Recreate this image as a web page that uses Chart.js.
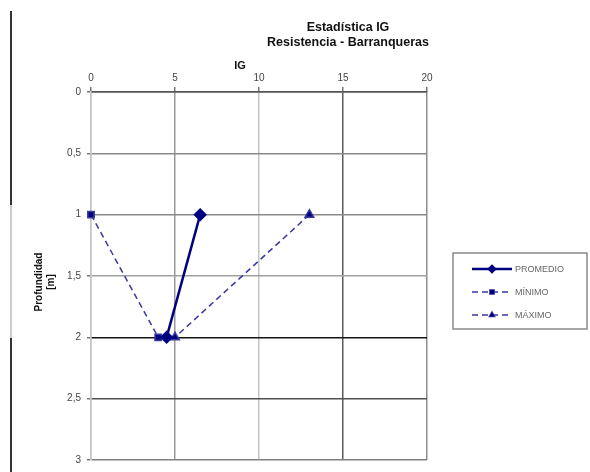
<!DOCTYPE html>
<html>
<head>
<meta charset="utf-8">
<script src="https://cdn.jsdelivr.net/npm/chart.js@4"></script>
<style>
  html, body { margin: 0; padding: 0; background: #fff; }
  #wrap { position: relative; width: 590px; height: 472px; }
  canvas { position: absolute; left: 0; top: 0; }
  .edge { position: absolute; left: 10px; width: 2px; }
</style>
</head>
<body>
<div id="wrap">
  <canvas id="c" width="590" height="472"></canvas>
  <div class="edge" style="top:11px;height:194px;background:#333"></div>
  <div class="edge" style="top:205px;height:133px;background:#ccc"></div>
  <div class="edge" style="top:338px;height:134px;background:#333"></div>
</div>
<script>
// Depth (m) of each sample level and the IG statistic at that depth
const depths = [1, 2];
const igPromedio = [6.5, 4.5];
const igMinimo = [0, 4];
const igMaximo = [13, 5];

const seriesNames = ['PROMEDIO', 'MÍNIMO', 'MÁXIMO'];
const xTickValues = [0, 5, 10, 15, 20];
const yTickValues = [0, 0.5, 1, 1.5, 2, 2.5, 3];
const yTickLabels = ['0', '0,5', '1', '1,5', '2', '2,5', '3'];
const titleLines = ['Estadística IG', 'Resistencia - Barranqueras'];
const xTitle = 'IG';
const yTitleLines = ['Profundidad', '[m]'];

// grid line shades, keyed by tick position in the value lists above
const xGridShades = ['#c4c4c4', '#9a9a9a', '#c4c4c4', '#5a5a5a', '#8e8e8e'];
const yGridShades = ['#555555', '#8a8a8a', '#8a8a8a', '#a0a0a0', '#151515', '#505050', '#808080'];

const NAVY = '#000080';

function pts(xs) { return depths.map((d, i) => ({ x: xs[i], y: d })); }
function yIndex(v) { return yTickValues.findIndex(t => Math.abs(t - v) < 1e-9); }
function xIndex(v) { return xTickValues.findIndex(t => Math.abs(t - v) < 1e-9); }

const datasets = [
  { label: seriesNames[0], data: pts(igPromedio), borderColor: NAVY, backgroundColor: NAVY,
    borderWidth: 2.5, pointStyle: 'rectRot', pointRadius: 5, showLine: true, clip: false },
  { label: seriesNames[1], data: pts(igMinimo), borderColor: '#3838a0', backgroundColor: NAVY,
    borderWidth: 1.5, borderDash: [6, 4], pointStyle: 'rect', pointRadius: 4.5, showLine: true, clip: false },
  { label: seriesNames[2], data: pts(igMaximo), borderColor: '#3838a0', backgroundColor: NAVY,
    borderWidth: 1.5, borderDash: [6, 4], pointStyle: 'triangle', pointRadius: 5, showLine: true, clip: false }
];

// titles and legend box drawn around the plot
const decorations = {
  id: 'decorations',
  afterDraw(chart) {
    const ctx = chart.ctx;
    const area = chart.chartArea;
    ctx.save();
    ctx.fillStyle = '#111';
    ctx.textAlign = 'center';
    ctx.textBaseline = 'middle';
    ctx.font = 'bold 12.5px "Liberation Sans", Arial, sans-serif';
    ctx.fillText(titleLines[0], 348, 28);
    ctx.fillText(titleLines[1], 348, 43);

    ctx.font = 'bold 11px "Liberation Sans", Arial, sans-serif';
    ctx.fillText(xTitle, 240, 66);

    ctx.save();
    ctx.translate(39, (area.top + area.bottom) / 2 + 6);
    ctx.rotate(-Math.PI / 2);
    ctx.font = 'bold 10px "Liberation Sans", Arial, sans-serif';
    ctx.fillText(yTitleLines[0], 0, 0);
    ctx.fillText(yTitleLines[1], 0, 12);
    ctx.restore();

    // legend
    const bx = 453, by = 253, bw = 134, bh = 76;
    ctx.strokeStyle = '#8a8a8a';
    ctx.lineWidth = 1.5;
    ctx.strokeRect(bx, by, bw, bh);
    ctx.textAlign = 'left';
    ctx.font = '9px "Liberation Sans", Arial, sans-serif';
    chart.data.datasets.forEach((ds, i) => {
      const y = by + 16 + i * 23;
      ctx.strokeStyle = ds.borderColor;
      ctx.lineWidth = ds.borderWidth;
      ctx.setLineDash(ds.borderDash || []);
      ctx.beginPath();
      ctx.moveTo(472, y);
      ctx.lineTo(512, y);
      ctx.stroke();
      ctx.setLineDash([]);
      Chart.helpers.drawPoint(ctx, {
        pointStyle: ds.pointStyle, radius: 3, rotation: 0, borderWidth: 1
      }, 492, y);
      ctx.fillStyle = NAVY;
      ctx.fill();
      ctx.fillStyle = '#666';
      ctx.fillText(ds.label, 515, y + 0.5);
    });
    ctx.restore();
  }
};

new Chart(document.getElementById('c'), {
  type: 'scatter',
  data: { datasets },
  plugins: [decorations],
  options: {
    responsive: false,
    animation: false,
    layout: { padding: { left: 0, top: 0, right: 163, bottom: 11 } },
    plugins: { legend: { display: false }, tooltip: { enabled: false } },
    scales: {
      x: {
        type: 'linear', position: 'top', min: 0, max: 20,
        afterFit(s) { s.height = 92; },
        afterBuildTicks(s) { s.ticks = xTickValues.map(v => ({ value: v })); },
        ticks: { color: '#444', font: { size: 10, family: '"Liberation Sans", Arial' }, padding: 3, maxRotation: 0 },
        grid: {
          color: c => xGridShades[xIndex(c.tick ? c.tick.value : NaN)] || '#999', lineWidth: 1.5,
          tickLength: 5, tickColor: '#777'
        },
        border: { color: '#555555', width: 1.5 }
      },
      y: {
        type: 'linear', reverse: true, min: 0, max: 3,
        afterFit(s) { s.width = 91; },
        afterBuildTicks(s) { s.ticks = yTickValues.map(v => ({ value: v })); },
        ticks: {
          color: '#444', padding: 6,
          font: { size: 10, family: '"Liberation Sans", Arial' },
          callback: v => yTickLabels[yIndex(v)]
        },
        grid: {
          color: c => yGridShades[yIndex(c.tick ? c.tick.value : NaN)] || '#999', lineWidth: 1.5,
          tickLength: 4, tickColor: '#777'
        },
        border: { color: '#c4c4c4', width: 1.5 }
      }
    }
  }
});
</script>
</body>
</html>
